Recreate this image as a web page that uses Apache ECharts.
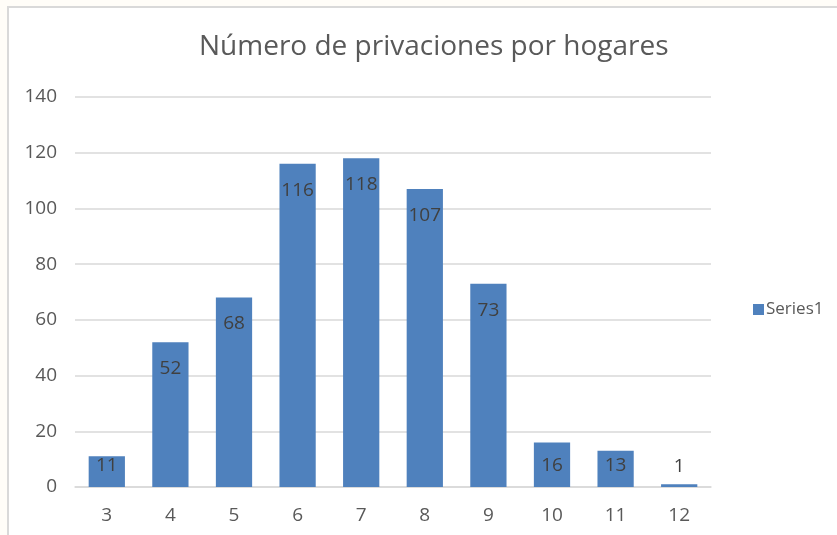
<!DOCTYPE html>
<html>
<head>
<meta charset="utf-8">
<script src="https://cdn.jsdelivr.net/npm/echarts@6/dist/echarts.min.js"></script>
<style>
  html, body { margin: 0; padding: 0; background: #fffdf8; }
  .frame {
    position: absolute; left: 7px; top: 6px; width: 840px; height: 540px;
    background: #fff; border-left: 2px solid #d9d9d9; border-top: 2px solid #d9d9d9;
  }
  #chart { position: absolute; left: 0; top: 0; width: 837px; height: 535px; }
</style>
</head>
<body>
<div class="frame"></div>
<div id="chart"></div>
<script>
// datos del gráfico
const categories = ['3', '4', '5', '6', '7', '8', '9', '10', '11', '12'];
const seriesValues = [11, 52, 68, 116, 118, 107, 73, 16, 13, 1];
const yTicks = [0, 20, 40, 60, 80, 100, 120, 140];

const chart = echarts.init(document.getElementById('chart'), null, { renderer: 'canvas' });

const textFont = '"Open Sans", "Noto Sans", sans-serif';

// etiqueta según la altura de la barra: dentro arriba, dentro abajo o encima
function labelFor(v) {
  if (v < 5) return { position: 'top', distance: 8 };
  if (v < 20) return { position: 'insideBottom', distance: 12 };
  return { position: 'insideTop', distance: 17 };
}

const option = {
  backgroundColor: 'transparent',
  animation: false,
  title: {
    text: 'Número de privaciones por hogares',
    left: 194,
    top: 28,
    textStyle: { fontFamily: textFont, fontSize: 28, fontWeight: 'normal', color: '#595959' }
  },
  legend: {
    data: ['Series1'],
    orient: 'vertical',
    left: 748,
    top: 296,
    itemWidth: 11,
    itemHeight: 11,
    itemGap: 5,
    icon: 'rect',
    textStyle: { fontFamily: textFont, fontSize: 17, color: '#595959', padding: [0, 0, 0, -3] }
  },
  grid: { left: 75, right: 126, top: 97, bottom: 48, containLabel: false },
  xAxis: {
    type: 'category',
    data: categories,
    axisLine: { show: true, lineStyle: { color: '#d9d9d9', width: 1.5 } },
    axisTick: { show: false },
    axisLabel: { fontFamily: textFont, fontSize: 19, color: '#595959', margin: 19 }
  },
  yAxis: {
    type: 'value',
    min: yTicks[0],
    max: yTicks[yTicks.length - 1],
    interval: 20,
    axisLine: { show: false },
    axisTick: { show: false },
    splitLine: { lineStyle: { color: '#d9d9d9', width: 1.5 } },
    axisLabel: { fontFamily: textFont, fontSize: 19, color: '#595959', margin: 18 }
  },
  series: [
    {
      name: 'Series1',
      type: 'bar',
      barWidth: '57%',
      itemStyle: { color: '#4f81bd' },
      label: {
        show: true,
        fontFamily: textFont,
        fontSize: 19,
        color: '#404040'
      },
      data: seriesValues.map(v => ({ value: v, label: labelFor(v) }))
    }
  ]
};

chart.setOption(option);
</script>
</body>
</html>
